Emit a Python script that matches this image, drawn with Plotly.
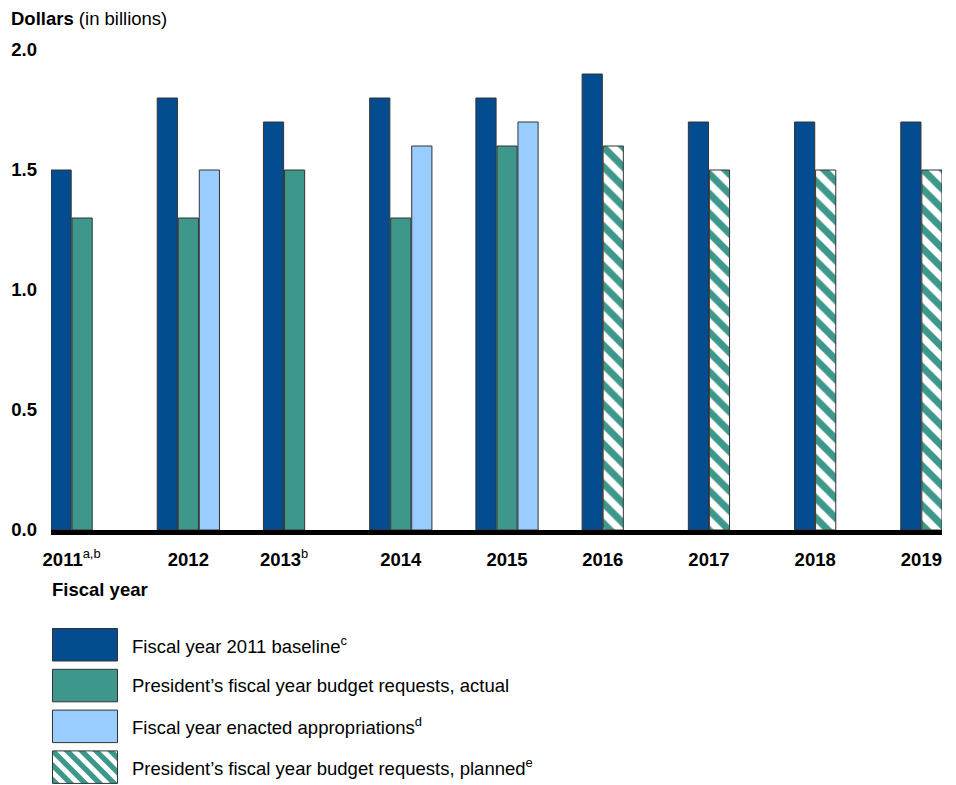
import plotly.graph_objects as go

years = [2011, 2012, 2013, 2014, 2015, 2016, 2017, 2018, 2019]
tick_labels = ["2011<sup>a,b</sup>", "2012", "2013<sup>b</sup>", "2014", "2015",
               "2016", "2017", "2018", "2019"]
baseline = [1.5, 1.8, 1.7, 1.8, 1.8, 1.9, 1.7, 1.7, 1.7]
request_actual = [1.3, 1.3, 1.5, 1.3, 1.6, None, None, None, None]
enacted = [None, 1.5, None, 1.6, 1.7, None, None, None, None]
request_planned = [None, None, None, None, None, 1.6, 1.5, 1.5, 1.5]

series_names = [
    "Fiscal year 2011 baseline<sup>c</sup>",
    "President\u2019s fiscal year budget requests, actual",
    "Fiscal year enacted appropriations<sup>d</sup>",
    "President\u2019s fiscal year budget requests, planned<sup>e</sup>",
]

C_BASE = "#034C8F"
C_TEAL = "#3D978B"
C_LIGHT = "#99CCFF"
EDGE = "#333333"
FONT = "Liberation Sans, Arial, sans-serif"
FS = 18.5

W, H = 956, 785
ML, MR, MT, MB = 51, 14, 50, 255
PW = W - ML - MR
PH = H - MT - MB

BW = 0.19
STEP = 0.198

fig = go.Figure()

def add(vals, name, offset, color, pattern=None):
    marker = dict(color=color, line=dict(color=EDGE, width=1))
    if pattern:
        marker = dict(color="white", line=dict(color=EDGE, width=1),
                      pattern=dict(shape="\\", fgcolor=C_TEAL, bgcolor="white",
                                   size=14, solidity=0.5, fgopacity=1,
                                   fillmode="replace"))
    fig.add_trace(go.Bar(x=years, y=vals, name=name, offset=offset, width=BW,
                         marker=marker, showlegend=False, hoverinfo="x+y"))

add(baseline, series_names[0], 0.0, C_BASE)
add(request_actual, series_names[1], STEP, C_TEAL)
add(enacted, series_names[2], 2 * STEP, C_LIGHT)
add(request_planned, series_names[3], STEP, C_TEAL, pattern=True)

# tick positions at centre of the bars present in each year
tickvals = []
for i, yr in enumerate(years):
    nbars = 1 + (request_actual[i] is not None or request_planned[i] is not None) + (enacted[i] is not None)
    right = (nbars - 1) * STEP + BW
    tickvals.append(yr + right / 2)

def bold_label(t):
    if "<sup>" in t:
        main, sup = t.split("<sup>", 1)
        return "<b>%s</b><sup>%s" % (main, sup)
    return "<b>%s</b>" % t

fig.update_layout(
    width=W, height=H,
    margin=dict(l=ML, r=MR, t=MT, b=MB, pad=0),
    paper_bgcolor="white", plot_bgcolor="white",
    barmode="overlay",
    font=dict(family=FONT, size=FS, color="black"),
    xaxis=dict(range=[years[0], years[-1] + STEP + BW], tickvals=tickvals,
               ticktext=[bold_label(t) for t in tick_labels],
               showgrid=False, zeroline=False, showline=True, linecolor="black",
               linewidth=5, ticks="", ticklabelstandoff=9, layer="above traces",
               tickfont=dict(size=FS, family=FONT, color="black")),
    yaxis=dict(range=[0, 2], tickvals=[0, 0.5, 1.0, 1.5, 2.0], tickformat=".1f",
               showgrid=False, zeroline=False, showline=False, ticks="",
               ticklabelstandoff=13,
               tickfont=dict(size=FS, family=FONT, color="black", weight="bold")),
    showlegend=False,
)

annotations = [
    dict(text="<b>Dollars</b> (in billions)", xref="paper", yref="paper",
         x=(9 - ML) / PW, y=(MT + PH - 18) / PH, xanchor="left", yanchor="middle",
         showarrow=False, font=dict(size=FS, family=FONT, color="black")),
    dict(text="<b>Fiscal year</b>", xref="paper", yref="paper",
         x=(50 - ML) / PW, y=(MT + PH - 589) / PH, xanchor="left", yanchor="middle",
         showarrow=False, font=dict(size=FS, family=FONT, color="black")),
]

# legend drawn as shapes + annotations
BOX_L, BOX_W, BOX_H = 52.5, 65, 32.5
BOX_TOP0, BOX_PITCH = 628.5, 40.8
TEXT_X = 129.5
shapes = []
fills = [C_BASE, C_TEAL, C_LIGHT, None]
base_px = MT + PH  # pixel of paper y=0


def clip(poly, xmin, xmax, ymin, ymax):
    def clip_edge(pts, inside, inter):
        out = []
        n = len(pts)
        for k in range(n):
            cur, prev = pts[k], pts[k - 1]
            if inside(cur):
                if not inside(prev):
                    out.append(inter(prev, cur))
                out.append(cur)
            elif inside(prev):
                out.append(inter(prev, cur))
        return out

    def ix(x0):
        return lambda p, q: (x0, p[1] + (q[1] - p[1]) * (x0 - p[0]) / (q[0] - p[0]))

    def iy(y0):
        return lambda p, q: (p[0] + (q[0] - p[0]) * (y0 - p[1]) / (q[1] - p[1]), y0)

    pts = poly
    for inside, inter in [
        (lambda p: p[0] >= xmin, ix(xmin)),
        (lambda p: p[0] <= xmax, ix(xmax)),
        (lambda p: p[1] >= ymin, iy(ymin)),
        (lambda p: p[1] <= ymax, iy(ymax)),
    ]:
        if not pts:
            break
        pts = clip_edge(pts, inside, inter)
    return pts


for k, name in enumerate(series_names):
    top = BOX_TOP0 + k * BOX_PITCH
    x0 = BOX_L - ML
    y_top = base_px - top
    y_bot = base_px - (top + BOX_H)
    if fills[k] is not None:
        shapes.append(dict(type="rect", xref="paper", yref="paper", xsizemode="pixel",
                           ysizemode="pixel", xanchor=0, yanchor=0,
                           x0=x0, x1=x0 + BOX_W, y0=y_bot, y1=y_top,
                           fillcolor=fills[k], line=dict(color=EDGE, width=1)))
    else:
        shapes.append(dict(type="rect", xref="paper", yref="paper", xsizemode="pixel",
                           ysizemode="pixel", xanchor=0, yanchor=0,
                           x0=x0, x1=x0 + BOX_W, y0=y_bot, y1=y_top,
                           fillcolor="white", line=dict(width=0)))
        period, sw = 14.5, 7.5
        c = -BOX_H - period
        while c < BOX_W + period:
            poly = [(c, 0), (c + sw, 0), (c + sw + BOX_H, BOX_H), (c + BOX_H, BOX_H)]
            cp = clip(poly, 0, BOX_W, 0, BOX_H)
            if len(cp) >= 3:
                path = "M" + " L".join("%.2f,%.2f" % (x0 + px, base_px - (top + py)) for px, py in cp) + " Z"
                shapes.append(dict(type="path", xref="paper", yref="paper", xsizemode="pixel",
                                   ysizemode="pixel", xanchor=0, yanchor=0, path=path,
                                   fillcolor=C_TEAL, line=dict(width=0)))
            c += period
        shapes.append(dict(type="rect", xref="paper", yref="paper", xsizemode="pixel",
                           ysizemode="pixel", xanchor=0, yanchor=0,
                           x0=x0, x1=x0 + BOX_W, y0=y_bot, y1=y_top,
                           fillcolor="rgba(0,0,0,0)", line=dict(color=EDGE, width=1)))
    annotations.append(dict(text=name, xref="paper", yref="paper",
                            x=(TEXT_X - ML) / PW, y=(base_px - (top + BOX_H / 2)) / PH,
                            xanchor="left", yanchor="middle", showarrow=False,
                            font=dict(size=FS, family=FONT, color="black")))

fig.update_layout(shapes=shapes, annotations=annotations)
fig.write_html("out.html", config={"displayModeBar": False},
               post_script="document.body.style.margin='0';document.body.style.padding='0';")
